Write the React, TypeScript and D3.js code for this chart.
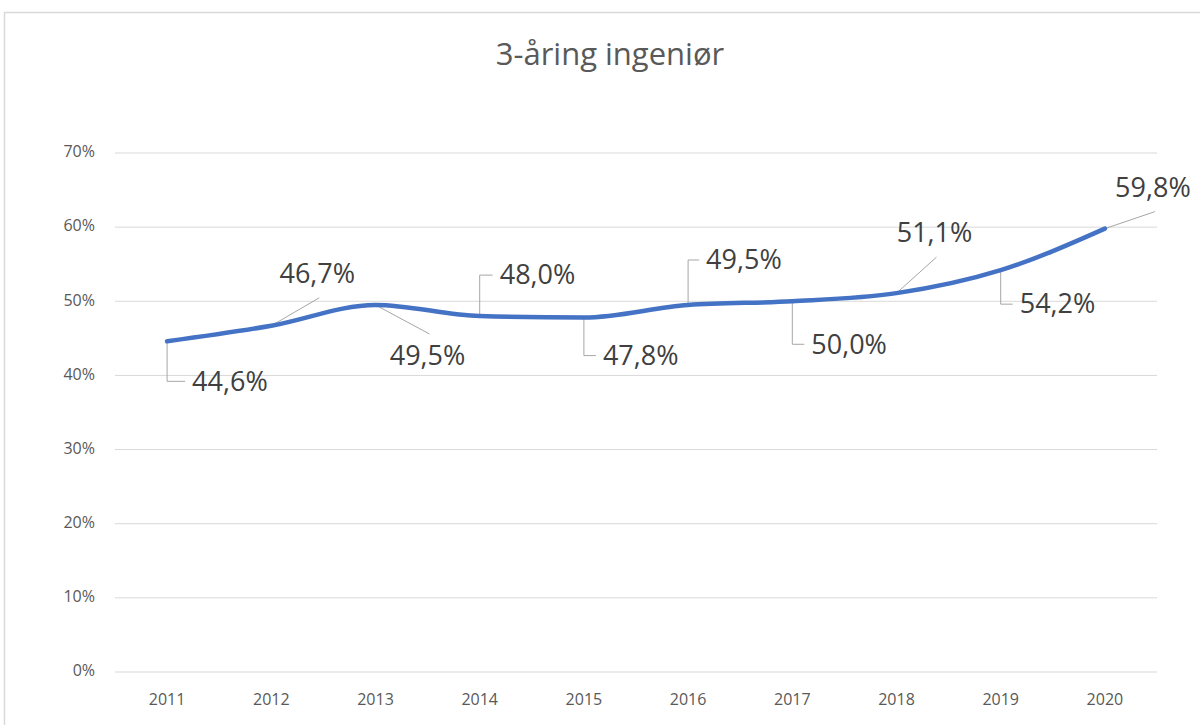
import React from "react";
import * as d3 from "d3";

const years = ["2011", "2012", "2013", "2014", "2015", "2016", "2017", "2018", "2019", "2020"];
const values = [44.6, 46.7, 49.5, 48.0, 47.8, 49.5, 50.0, 51.1, 54.2, 59.8];
const yTicks = [0, 10, 20, 30, 40, 50, 60, 70];
const title = "3-åring ingeniør";

// label placement (layout config): "elbow" = vertical then horizontal leader, "diag" = diagonal leader
const labelLayout: { kind: string; ex: number; ey: number }[] = [
  { kind: "elbow", ex: 18, ey: 40 },
  { kind: "diag", ex: 48, ey: -28 },
  { kind: "diag", ex: 54, ey: 29 },
  { kind: "elbow", ex: 13, ey: -41 },
  { kind: "elbow", ex: 12, ey: 38 },
  { kind: "elbow", ex: 11, ey: -45 },
  { kind: "elbow", ex: 12, ey: 43 },
  { kind: "diag", ex: 40, ey: -36 },
  { kind: "elbow", ex: 12, ey: 34 },
  { kind: "diag", ex: 50, ey: -17 },
];

export default function App() {
  const W = 1200, H = 725;
  const left = 115, right = 1157, top = 153, bottom = 672;
  const x = d3.scaleBand<string>().domain(years).range([left, right]);
  const y = d3.scaleLinear().domain([0, 70]).range([bottom, top]);
  const cx = (yr: string) => (x(yr) as number) + x.bandwidth() / 2;
  const pts: [number, number][] = years.map((yr, i) => [cx(yr), y(values[i])]);
  const line = d3.line().curve(d3.curveMonotoneX)(pts) as string;
  const fmt = (v: number) => v.toFixed(1).replace(".", ",") + "%";
  const font = "'Open Sans', 'Liberation Sans', sans-serif";

  return (
    <svg width={W} height={H} style={{ position: "absolute", left: 0, top: 0 }} fontFamily={font}>
      <rect x={0} y={0} width={W} height={H} fill="#fff" />
      <rect x={4.5} y={12.5} width={W + 10} height={H + 10} fill="none" stroke="#d9d9d9" strokeWidth={1.5} />
      <text x={610} y={57} textAnchor="middle" dominantBaseline="middle" fontSize={31} fill="#595959">{title}</text>
      {yTicks.map((t) => (
        <g key={t}>
          <line x1={left} x2={right} y1={y(t)} y2={y(t)} stroke="#d9d9d9" strokeWidth={1} />
          <text x={95} y={y(t)} textAnchor="end" dominantBaseline="middle" fontSize={16} fill="#595959">{t + "%"}</text>
        </g>
      ))}
      {years.map((yr) => (
        <text key={yr} x={cx(yr)} y={701} textAnchor="middle" dominantBaseline="middle" fontSize={16} fill="#595959">{yr}</text>
      ))}
      {pts.map(([px, py], i) => {
        const L = labelLayout[i];
        const ex = px + L.ex, ey = py + L.ey;
        const d = L.kind === "elbow" ? `M${px},${py}V${ey}H${ex}` : `M${px},${py}L${ex},${ey}`;
        let tx: number, ty: number, anchor: string;
        if (L.kind === "elbow") {
          tx = ex + 7; ty = ey + 2; anchor = "start";
        } else if (L.ey < 0) {
          tx = ex - 2; ty = ey - 22; anchor = "middle";
        } else {
          tx = ex - 2; ty = ey + 24; anchor = "middle";
        }
        return (
          <g key={i}>
            <path d={d} fill="none" stroke="#a6a6a6" strokeWidth={1} />
            <text x={tx} y={ty} textAnchor={anchor} dominantBaseline="middle" fontSize={27} fill="#404040">{fmt(values[i])}</text>
          </g>
        );
      })}
      <path d={line} fill="none" stroke="#4472C4" strokeWidth={4.5} strokeLinejoin="round" strokeLinecap="round" />
    </svg>
  );
}
